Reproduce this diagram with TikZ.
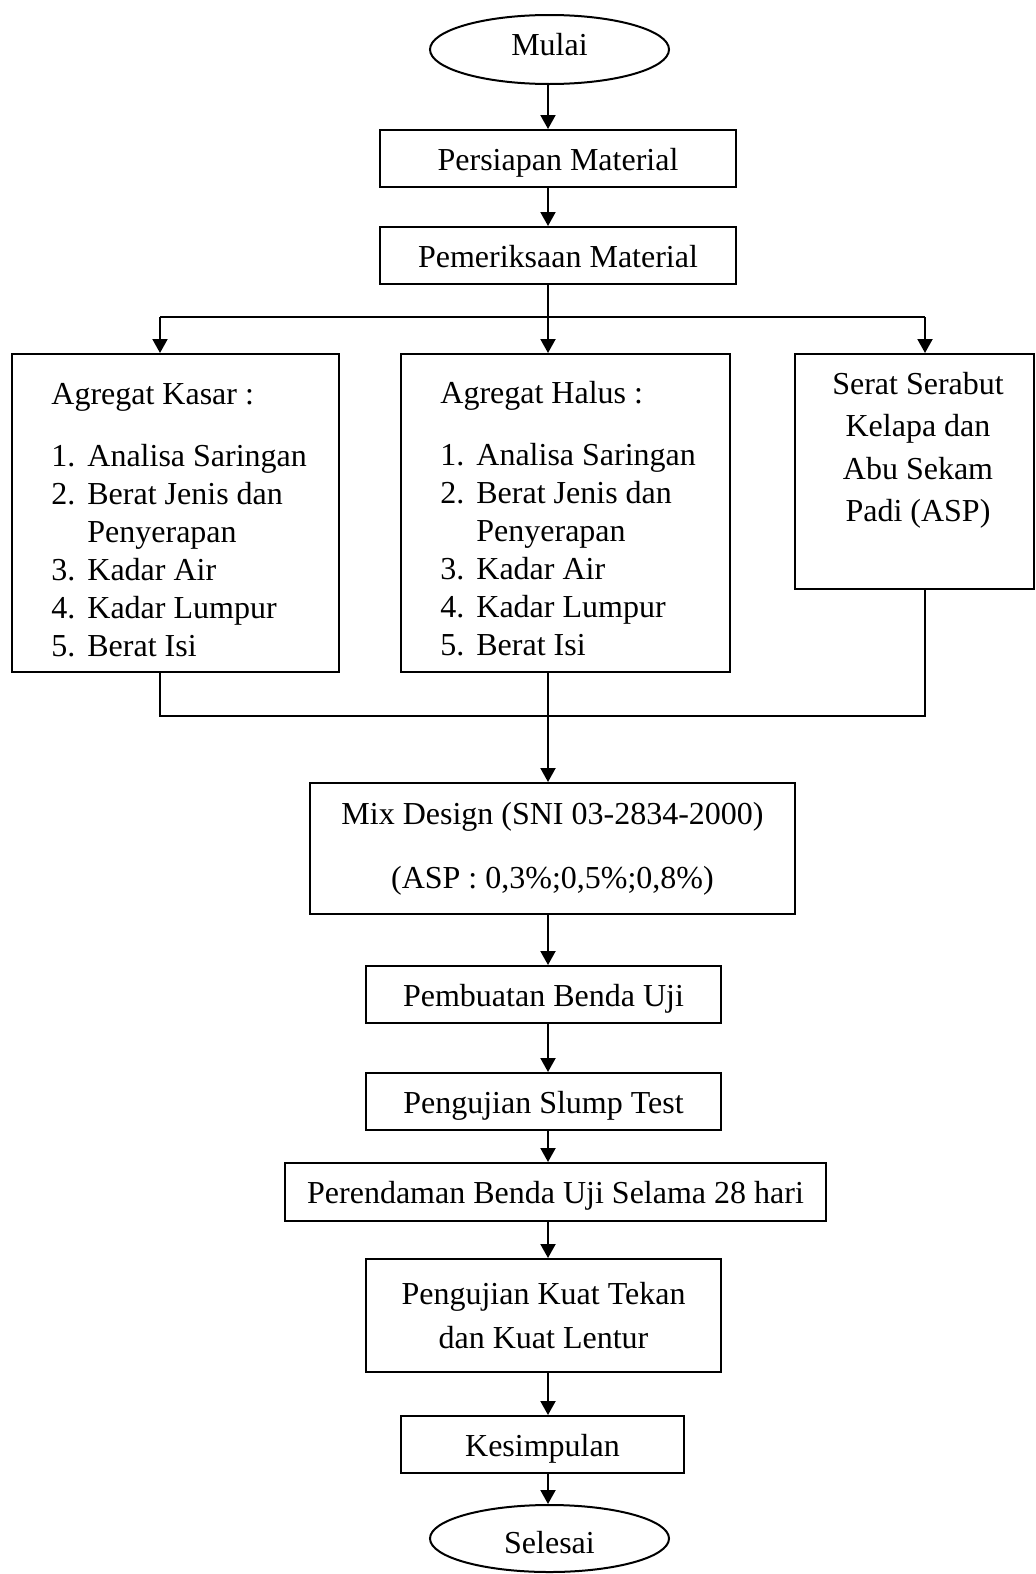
\documentclass[tikz,border=0pt]{standalone}
\usepackage{fontspec}
\setmainfont{Liberation Serif}
\usepackage{tikz}
\usetikzlibrary{positioning, shapes.geometric, arrows.meta}

\begin{document}
\begin{tikzpicture}
    [
      x=0.5pt, y=-0.5pt,
      every node/.style = {font=\fontsize{16}{19}\selectfont},
      box/.style = {shape=rectangle, draw, line width=1pt, align=center, inner sep=0pt},
      oneline/.style = {text height=12.5pt, text depth=1pt},
      term/.style = {shape=ellipse, draw, line width=1pt, inner sep=0pt},
      txt/.style = {inner sep=0pt, anchor=base west},
      arr/.style = {line width=1pt, -{Triangle[length=7pt,width=7.5pt]}},
      line/.style = {line width=1pt}
    ]
    \useasboundingbox (0,0) rectangle (1035,1574);

    % main chain
    \node[term, minimum width=119.5pt, minimum height=34.5pt, text height=8pt, text depth=2.5pt] (mulai) at (549.5,49.5) {Mulai};
    \node[box, oneline, minimum width=178pt, minimum height=28.5pt] (persiapan) at (558,158.5) {Persiapan Material};
    \node[box, oneline, minimum width=178pt, minimum height=28.5pt] (pemeriksaan) at (558,255.5) {Pemeriksaan Material};

    % three material boxes
    \node[box, minimum width=163.5pt, minimum height=159pt] (kasar) at (175.5,513) {};
    \node[box, minimum width=164.5pt, minimum height=159pt] (halus) at (565.5,513) {};
    \node[box, minimum width=119.5pt, minimum height=117.5pt] (serat) at (914.5,471.5) {};

    \node[txt] (kasartxt) at ([shift={(40,51)}]kasar.north west)
      {\begin{tabular}[t]{@{}l@{\hspace{6pt}}l@{}}
        \multicolumn{2}{@{}l@{}}{Agregat Kasar :}\\[12pt]
        1. & Analisa Saringan\\
        2. & Berat Jenis dan\\
           & Penyerapan\\
        3. & Kadar Air\\
        4. & Kadar Lumpur\\
        5. & Berat Isi
      \end{tabular}};
    \node[txt] (halustxt) at ([shift={(40,50)}]halus.north west)
      {\begin{tabular}[t]{@{}l@{\hspace{6pt}}l@{}}
        \multicolumn{2}{@{}l@{}}{Agregat Halus :}\\[12pt]
        1. & Analisa Saringan\\
        2. & Berat Jenis dan\\
           & Penyerapan\\
        3. & Kadar Air\\
        4. & Kadar Lumpur\\
        5. & Berat Isi
      \end{tabular}};
    \node[inner sep=0pt, anchor=base, font=\fontsize{16}{21.25}\selectfont] (serattxt) at ([shift={(3.5,41)}]serat.north)
      {\begin{tabular}[t]{@{}c@{}}
        Serat Serabut\\ Kelapa dan\\ Abu Sekam\\ Padi (ASP)
      \end{tabular}};

    % rest of the chain
    \node[box, minimum width=242.5pt, minimum height=65.5pt] (mix) at (552.5,848.5)
      {Mix Design (SNI 03-2834-2000)\\[13pt] (ASP : 0,3\%;0,5\%;0,8\%)};
    \node[box, oneline, minimum width=177.5pt, minimum height=28.5pt] (pembuatan) at (543.5,994.5) {Pembuatan Benda Uji};
    \node[box, oneline, minimum width=177.5pt, minimum height=28.5pt] (slump) at (543.5,1101.5) {Pengujian Slump Test};
    \node[box, oneline, minimum width=270.5pt, minimum height=29pt] (rendam) at (555.5,1192) {Perendaman Benda Uji Selama 28 hari};
    \node[box, minimum width=177.5pt, minimum height=56.5pt] (kuat) at (543.5,1315.5)
      {Pengujian Kuat Tekan\\[3pt] dan Kuat Lentur};
    \node[box, oneline, minimum width=141.5pt, minimum height=28.5pt] (kesimpulan) at (542.5,1444.5) {Kesimpulan};
    \node[term, minimum width=119.5pt, minimum height=33.5pt, text height=15pt, text depth=0.5pt] (selesai) at (549.5,1538.5) {Selesai};

    % connectors
    \coordinate (axis) at (548,0);
    \coordinate (splitL) at (160,317);
    \coordinate (splitR) at (925,317);
    \coordinate (joinL) at (160,716);
    \coordinate (joinR) at (925,716);

    \draw[arr] (axis |- mulai.south) -- (axis |- persiapan.north);
    \draw[arr] (axis |- persiapan.south) -- (axis |- pemeriksaan.north);
    \draw[line] (axis |- pemeriksaan.south) -- (axis |- splitL);
    \draw[line] (splitL) -- (splitR);
    \draw[arr] (splitL) -- (splitL |- kasar.north);
    \draw[arr] (axis |- splitL) -- (axis |- halus.north);
    \draw[arr] (splitR) -- (splitR |- serat.north);

    \draw[line] (joinL |- kasar.south) -- (joinL) -- (joinR) -- (joinR |- serat.south);
    \draw[arr] (axis |- halus.south) -- (axis |- mix.north);
    \draw[arr] (axis |- mix.south) -- (axis |- pembuatan.north);
    \draw[arr] (axis |- pembuatan.south) -- (axis |- slump.north);
    \draw[arr] (axis |- slump.south) -- (axis |- rendam.north);
    \draw[arr] (axis |- rendam.south) -- (axis |- kuat.north);
    \draw[arr] (axis |- kuat.south) -- (axis |- kesimpulan.north);
    \draw[arr] (axis |- kesimpulan.south) -- (axis |- selesai.north);
\end{tikzpicture}
\end{document}
